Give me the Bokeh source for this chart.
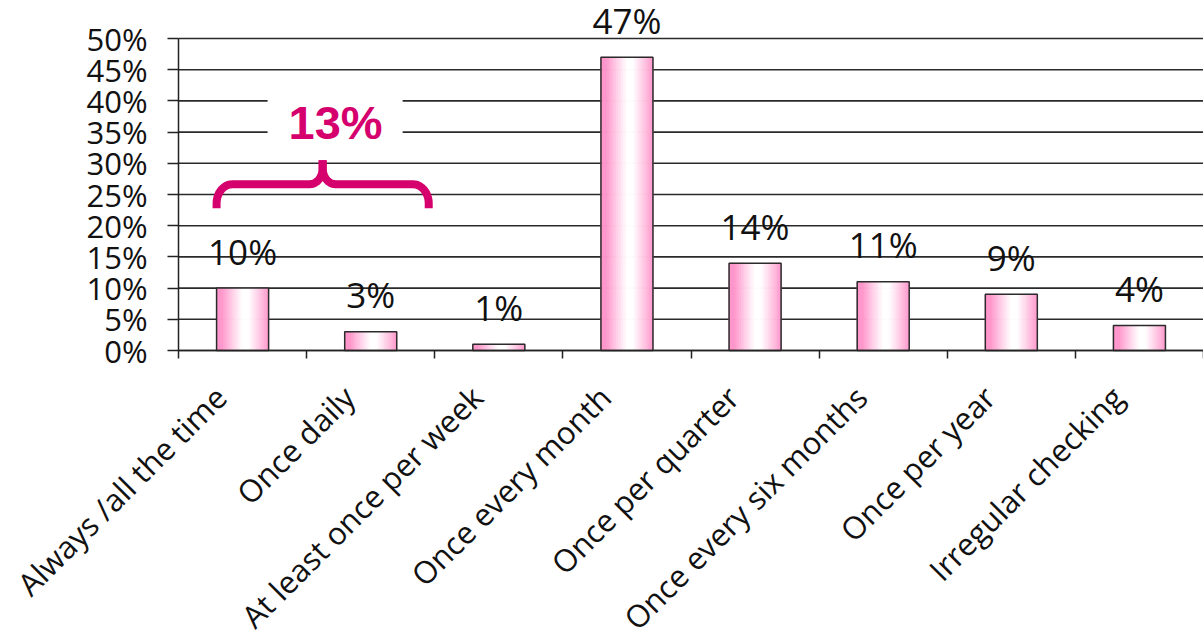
import numpy as np
from bokeh.plotting import figure
from bokeh.models import (ColumnDataSource, Range1d, FixedTicker, PrintfTickFormatter)
from bokeh.core.properties import value
from bokeh.embed import file_html
from bokeh.resources import INLINE

# ---- data ----
categories = ["Always /all the time", "Once daily", "At least once per week",
              "Once every month", "Once per quarter", "Once every six months",
              "Once per year", "Irregular checking"]
percents = [10, 3, 1, 47, 14, 11, 9, 4]
value_labels = ["10%", "3%", "1%", "47%", "14%", "11%", "9%", "4%"]
y_ticks = [0, 5, 10, 15, 20, 25, 30, 35, 40, 45, 50]
group_label = "13%"          # first two categories combined
group_span = (0, 1)          # indexes of the grouped categories

FONT = "Open Sans"
MAGENTA = "#D5006D"
PX_PER_UNIT = 6.24           # vertical pixels per percent
PX_PER_CAT = 128.1           # horizontal pixels per category
Y_TOP = 38 / PX_PER_UNIT + 50          # room above the 50% line
Y_MIN = -293 / PX_PER_UNIT             # room for the slanted category labels

n = len(categories)
centers = np.arange(n) + 0.5
px_x = 1.0 / PX_PER_CAT
px_y = 1.0 / PX_PER_UNIT
X_MIN = -178 * px_x                    # room for the percent tick labels

p = figure(width=1203, height=643, output_backend="svg", toolbar_location=None,
           x_range=Range1d(X_MIN, n), y_range=Range1d(Y_MIN, Y_TOP),
           min_border_left=0, min_border_right=0, min_border_top=0,
           min_border_bottom=0)
p.outline_line_color = None
p.background_fill_color = "white"
p.border_fill_color = "white"
p.xgrid.visible = False
p.ygrid.visible = False

# ---- horizontal gridlines ----
p.segment(x0=0, x1=n, y0=y_ticks, y1=y_ticks, line_color="#2a2a2a", line_width=1.6)

# ---- axes ----
label_pos = centers - 22 * px_x
xa = p.xaxis[0]
xa.fixed_location = 0
xa.bounds = (0, n)
xa.ticker = FixedTicker(ticks=list(label_pos), minor_ticks=list(range(n + 1)))
xa.major_label_overrides = {float(c): cat for c, cat in zip(label_pos, categories)}
xa.major_tick_line_color = None
xa.major_tick_out = 0
xa.major_tick_in = 0
xa.minor_tick_line_color = "#222222"
xa.minor_tick_line_width = 1.5
xa.minor_tick_out = 8
xa.minor_tick_in = 0
xa.axis_line_color = "#222222"
xa.axis_line_width = 1.5
xa.major_label_orientation = np.pi / 4
xa.major_label_standoff = 33
xa.major_label_text_font = FONT
xa.major_label_text_font_size = "31px"
xa.major_label_text_color = "#111111"

ya = p.yaxis[0]
ya.fixed_location = 0
ya.ticker = FixedTicker(ticks=y_ticks)
ya.formatter = PrintfTickFormatter(format="%d%%")
ya.bounds = (0, 50)
ya.major_tick_out = 11
ya.major_tick_in = 0
ya.major_tick_line_color = "#222222"
ya.major_tick_line_width = 1.5
ya.minor_tick_line_color = None
ya.axis_line_color = "#222222"
ya.axis_line_width = 1.5
ya.major_label_standoff = 20
ya.major_label_text_font = FONT
ya.major_label_text_font_size = "31px"
ya.major_label_text_color = "#111111"

# ---- bars with horizontal pink-white-pink gradient (strips) ----
bar_w = 0.406
nstrip = 30
edges = np.linspace(-bar_w / 2, bar_w / 2, nstrip + 1)
mids = (edges[:-1] + edges[1:]) / 2
t = (mids + bar_w / 2) / bar_w
pink = np.array([255, 150, 203])
white = np.array([255, 255, 255])
strip_cols = []
for tt in t:
    d = np.clip((abs(tt - 0.56) - 0.05) / 0.40, 0, 1)
    w = d ** 1.1
    c = white + (pink - white) * w
    strip_cols.append("#%02x%02x%02x" % tuple(int(round(v)) for v in c))

sx, stop, scol = [], [], []
for c, v in zip(centers, percents):
    for m, col in zip(mids, strip_cols):
        sx.append(c + m)
        stop.append(v)
        scol.append(col)
strips = ColumnDataSource(dict(x=sx, top=stop, color=scol))
p.vbar(x="x", top="top", bottom=0, width=bar_w / nstrip, source=strips,
       fill_color="color", line_color="color", line_width=0.8)

bars = ColumnDataSource(dict(x=centers, top=percents, label=value_labels))
p.vbar(x="x", top="top", bottom=0, width=bar_w, source=bars,
       fill_color=None, line_color="#2b2b2b", line_width=1.5)

p.text(x="x", y="top", text="label", source=bars, y_offset=-37,
       text_align="center", text_baseline="alphabetic",
       text_font=value(FONT), text_font_size="35px", text_color="#111111")

# ---- brace annotation over first two categories ----
x0 = group_span[0] + 0.5 - 26 * px_x
x1 = group_span[1] + 0.5 + 58 * px_x
xc = (x0 + x1) / 2
y_end = 22.8
y_h = y_end + 24 * px_y
y_peak = y_h + 24 * px_y
rx1, ry1 = 16 * px_x, 19 * px_y
rx2, ry2 = 13 * px_x, 16 * px_y

def arc(cx, cy, rx, ry, a0, a1, k=12):
    a = np.linspace(np.radians(a0), np.radians(a1), k)
    return list(cx + rx * np.cos(a)), list(cy + ry * np.sin(a))

bx, by = [x0], [y_end]
ax_, ay_ = arc(x0 + rx1, y_h - ry1, rx1, ry1, 180, 90); bx += ax_; by += ay_
ax_, ay_ = arc(xc - rx2, y_h + ry2, rx2, ry2, -90, 0); bx += ax_; by += ay_
bx.append(xc); by.append(y_peak)
rbx, rby = [xc], [y_peak]
ax_, ay_ = arc(xc + rx2, y_h + ry2, rx2, ry2, 180, 270); rbx += ax_; rby += ay_
ax_, ay_ = arc(x1 - rx1, y_h - ry1, rx1, ry1, 90, 0); rbx += ax_; rby += ay_
rbx.append(x1); rby.append(y_end)
p.line(bx, by, line_color=MAGENTA, line_width=8, line_join="round", line_cap="butt")
p.line(rbx, rby, line_color=MAGENTA, line_width=8, line_join="round", line_cap="butt")

# white box behind the group label, cutting the gridlines
lab_x = group_span[0] + 0.5 + 93 * px_x
lab_y = 36.5
p.quad(left=lab_x - 68 * px_x, right=lab_x + 67 * px_x, bottom=32.0, top=42.5,
       fill_color="white", line_color=None)
p.text(x=[lab_x], y=[lab_y], text=[group_label], text_align="center",
       text_baseline="middle", text_font=value("Liberation Sans"),
       text_font_style="bold", text_font_size="47px", text_color=MAGENTA)

open("out.html", "w").write(file_html(p, INLINE))
